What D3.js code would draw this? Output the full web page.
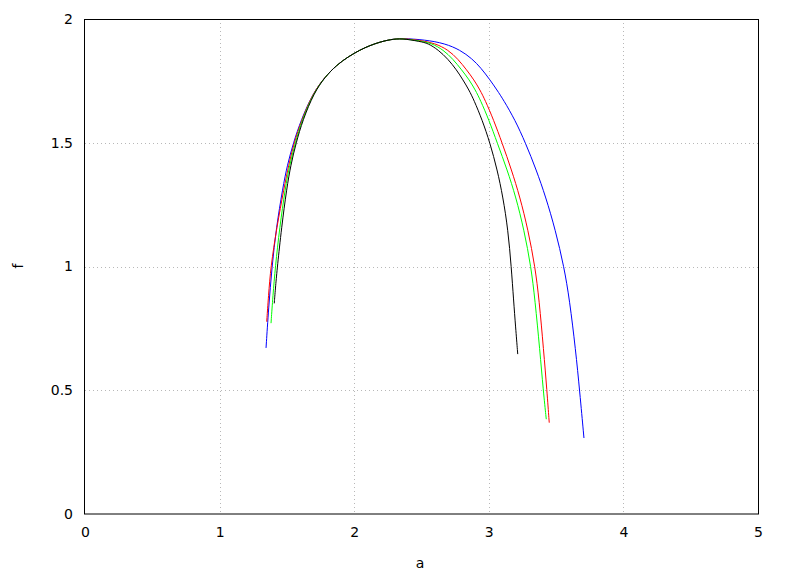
<!DOCTYPE html>
<html>
<head>
<meta charset="utf-8">
<script src="https://cdn.jsdelivr.net/npm/d3@7"></script>
<style>
  html, body { margin: 0; padding: 0; background: #fff; }
  svg { display: block; }
  text { font-family: "DejaVu Sans", sans-serif; font-size: 14px; fill: #000; }
</style>
</head>
<body>
<svg id="chart" width="788" height="576"></svg>
<script>
// ---- data ----
const xTicks = [0, 1, 2, 3, 4, 5];
const yTicks = [0, 0.5, 1, 1.5, 2];
const xTickLabels = ["0", "1", "2", "3", "4", "5"];
const yTickLabels = ["0", "0.5", "1", "1.5", "2"];
const xTitle = "a";
const yTitle = "f";

const blueA = [1.345, 1.364, 1.389, 1.421, 1.469, 1.503, 1.548, 1.605, 1.694, 1.783, 1.870, 1.954, 2.043, 2.117, 2.192, 2.266, 2.355,
  2.526, 2.675, 2.786, 2.875, 2.942, 3.009, 3.061, 3.109, 3.195, 3.273, 3.353, 3.423, 3.495, 3.559, 3.600, 3.645, 3.675, 3.707];
const blueF = [0.671, 0.832, 0.998, 1.156, 1.317, 1.410, 1.499, 1.592, 1.701, 1.766, 1.814, 1.847, 1.875, 1.893, 1.907, 1.917, 1.922,
  1.916, 1.901, 1.875, 1.840, 1.802, 1.754, 1.713, 1.673, 1.592, 1.499, 1.390, 1.281, 1.147, 0.998, 0.865, 0.663, 0.497, 0.307];

const redA = [1.350, 1.363, 1.380, 1.424, 1.479, 1.513, 1.553, 1.609, 1.694, 1.783, 1.870, 1.954, 2.043, 2.117, 2.192, 2.266, 2.355,
  2.489, 2.600, 2.699, 2.771, 2.836, 2.890, 2.935, 2.972, 3.036, 3.099, 3.169, 3.231, 3.292, 3.344, 3.374, 3.407, 3.432, 3.449];
const redF = [0.777, 0.881, 0.998, 1.156, 1.317, 1.410, 1.499, 1.592, 1.701, 1.766, 1.814, 1.847, 1.875, 1.893, 1.907, 1.917, 1.922,
  1.914, 1.902, 1.875, 1.838, 1.794, 1.754, 1.713, 1.673, 1.592, 1.499, 1.390, 1.281, 1.147, 0.998, 0.865, 0.663, 0.497, 0.369];

const greenA = [1.382, 1.396, 1.414, 1.446, 1.488, 1.520, 1.562, 1.612, 1.698, 1.783, 1.870, 1.954, 2.043, 2.117, 2.192, 2.266, 2.355,
  2.489, 2.576, 2.662, 2.734, 2.799, 2.855, 2.900, 2.937, 3.001, 3.063, 3.137, 3.201, 3.262, 3.314, 3.343, 3.379, 3.405, 3.427];
const greenF = [0.771, 0.881, 0.998, 1.156, 1.317, 1.410, 1.499, 1.592, 1.701, 1.766, 1.814, 1.847, 1.875, 1.893, 1.907, 1.917, 1.922,
  1.911, 1.902, 1.875, 1.838, 1.794, 1.754, 1.713, 1.673, 1.592, 1.499, 1.390, 1.281, 1.147, 0.998, 0.865, 0.663, 0.497, 0.383];

const blackA = [1.406, 1.416, 1.429, 1.460, 1.499, 1.529, 1.568, 1.618, 1.701, 1.783, 1.870, 1.954, 2.043, 2.117, 2.192, 2.266, 2.355,
  2.489, 2.548, 2.625, 2.697, 2.761, 2.808, 2.853, 2.889, 2.951, 3.009, 3.063, 3.105, 3.143, 3.167, 3.184, 3.199, 3.215];
const blackF = [0.851, 0.921, 0.998, 1.156, 1.317, 1.410, 1.499, 1.592, 1.701, 1.766, 1.814, 1.847, 1.875, 1.893, 1.907, 1.917, 1.922,
  1.909, 1.902, 1.875, 1.838, 1.794, 1.754, 1.713, 1.673, 1.592, 1.499, 1.390, 1.281, 1.147, 0.998, 0.865, 0.756, 0.646];

const seriesColors = ["#0000ff", "#ff0000", "#00ff00", "#000000"];

// ---- layout ----
const svg = d3.select("#chart");
const L = 85, R = 758, T = 19, B = 514;
const x = d3.scaleLinear().domain([0, 5]).range([L, R]);
const y = d3.scaleLinear().domain([0, 2]).range([B, T]);

// grid
const grid = svg.append("g").attr("stroke", "#b8b8b8").attr("stroke-width", 1)
  .attr("stroke-dasharray", "1,3");
xTicks.filter(v => v > 0 && v < 5).forEach(v => {
  grid.append("line").attr("x1", Math.round(x(v)) + 0.5).attr("x2", Math.round(x(v)) + 0.5)
    .attr("y1", T).attr("y2", B);
});
yTicks.filter(v => v > 0 && v < 2).forEach(v => {
  grid.append("line").attr("y1", Math.round(y(v)) + 0.5).attr("y2", Math.round(y(v)) + 0.5)
    .attr("x1", L).attr("x2", R);
});

// axes (labels only, via d3 axes)
const xAxis = d3.axisBottom(x).tickValues(xTicks).tickFormat((d, i) => xTickLabels[i]).tickSize(0).tickPadding(13);
const yAxis = d3.axisLeft(y).tickValues(yTicks).tickFormat((d, i) => yTickLabels[i]).tickSize(0).tickPadding(12);
const gx = svg.append("g").attr("transform", `translate(0,${B})`).call(xAxis);
const gy = svg.append("g").attr("transform", `translate(${L},0)`).call(yAxis);
[gx, gy].forEach(g => {
  g.select(".domain").remove();
  g.selectAll("text").style("font-family", '"DejaVu Sans", sans-serif').style("font-size", "14px").attr("fill", "#000");
});

// curves
const line = d3.line().x(d => x(d[0])).y(d => y(d[1])).curve(d3.curveBasis);
const series = [
  d3.zip(blueA, blueF),
  d3.zip(redA, redF),
  d3.zip(greenA, greenF),
  d3.zip(blackA, blackF)
];
series.forEach((pts, i) => {
  svg.append("path").attr("d", line(pts)).attr("fill", "none")
    .attr("stroke", seriesColors[i]).attr("stroke-width", 1);
});

// border
svg.append("rect").attr("x", L - 0.5).attr("y", T + 0.5).attr("width", R - L + 1).attr("height", B - T - 0.5)
  .attr("fill", "none").attr("stroke", "#000").attr("stroke-width", 1);

// titles
svg.append("text").attr("x", 420).attr("y", 568).attr("text-anchor", "middle").text(xTitle);
svg.append("text").attr("transform", "translate(23,266) rotate(-90)").attr("text-anchor", "middle").text(yTitle);
</script>
</body>
</html>
